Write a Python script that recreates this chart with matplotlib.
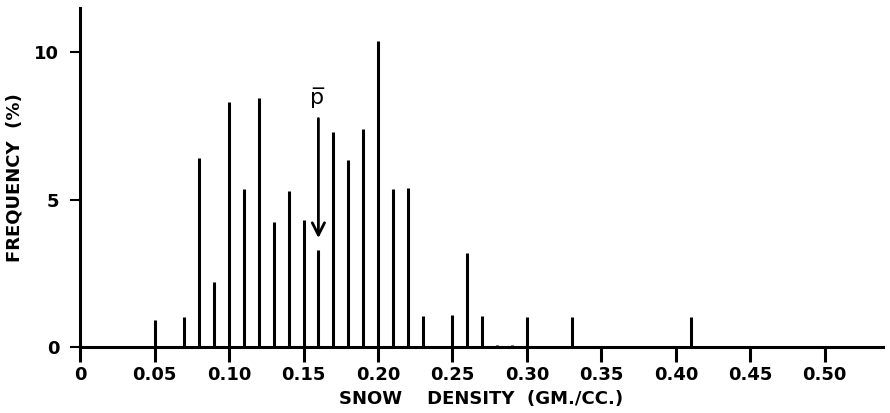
import numpy as np
import matplotlib
matplotlib.use("Agg")
from matplotlib import pyplot as plt

# snow density class (gm/cc) and frequency (%)
density = [0.05, 0.07, 0.08, 0.09, 0.10, 0.11, 0.12, 0.13, 0.14, 0.15, 0.16,
           0.17, 0.18, 0.19, 0.20, 0.21, 0.22, 0.23, 0.25, 0.26, 0.27, 0.28,
           0.29, 0.30, 0.33, 0.41]
frequency = [0.9, 1.0, 6.4, 2.2, 8.3, 5.35, 8.45, 4.25, 5.3, 4.3, 3.3,
             7.3, 6.35, 7.4, 10.4, 5.35, 5.4, 1.05, 1.1, 3.2, 1.05, 0.08,
             0.08, 1.0, 1.0, 1.0]
x_ticks = [0, 0.05, 0.10, 0.15, 0.20, 0.25, 0.30, 0.35, 0.40, 0.45, 0.50]
x_tick_labels = ["0", "0.05", "0.10", "0.15", "0.20", "0.25", "0.30",
                 "0.35", "0.40", "0.45", "0.50"]
y_ticks = [0, 5, 10]
mean_density = 0.16

plt.rcParams['font.family'] = ['DejaVu Sans']
plt.rcParams['font.weight'] = 'bold'

fig = plt.figure(figsize=(8.9, 4.13), dpi=100)
ax = fig.add_axes([0.09, 0.16, 0.902, 0.82])

ax.vlines(density, 0, frequency, colors='black', linewidth=2.2)

# mean marker
ax.annotate('', xy=(mean_density, 3.6), xytext=(mean_density, 7.85),
            arrowprops=dict(arrowstyle='->', color='black', lw=2.0,
                            mutation_scale=22))
ax.text(mean_density - 0.001, 8.1, 'p\u0305', ha='center',
        va='bottom', fontsize=16, fontweight='normal')

ax.set_xlim(0, 0.539)
ax.set_ylim(0, 11.5)
ax.spines['top'].set_visible(False)
ax.spines['right'].set_visible(False)
ax.spines['left'].set_linewidth(2.2)
ax.spines['bottom'].set_linewidth(2.2)

ax.set_xticks(x_ticks)
ax.set_xticklabels(x_tick_labels)
ax.set_yticks(y_ticks)
ax.tick_params(axis='x', direction='out', length=11, width=2.2, labelsize=13, pad=3)
ax.tick_params(axis='y', direction='out', length=7, width=1.5, labelsize=13, pad=8)

ax.set_xlabel('SNOW    DENSITY  (GM./CC.)', fontsize=13, fontweight='bold', labelpad=4)
ax.set_ylabel('FREQUENCY  (%)', fontsize=13, fontweight='bold', labelpad=8)

plt.savefig('out.png', dpi=100)
